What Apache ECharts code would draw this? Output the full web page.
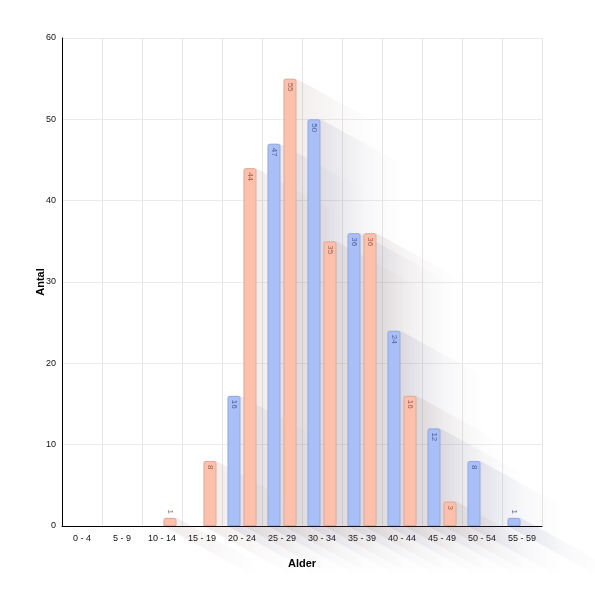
<!DOCTYPE html>
<html>
<head>
<meta charset="utf-8">
<script src="https://cdn.jsdelivr.net/npm/echarts@6/dist/echarts.min.js"></script>
<style>
  html, body { margin: 0; padding: 0; background: #fff; }
  #chart { width: 595px; height: 601px; }
</style>
</head>
<body>
<div id="chart"></div>
<script>
// age groups
const categories = ["0 - 4", "5 - 9", "10 - 14", "15 - 19", "20 - 24", "25 - 29",
  "30 - 34", "35 - 39", "40 - 44", "45 - 49", "50 - 54", "55 - 59"];
const blueValues = [0, 0, 0, 0, 16, 47, 50, 36, 24, 12, 8, 1];
const salmonValues = [0, 0, 1, 8, 44, 55, 35, 36, 16, 3, 0, 0];
const yMin = 0, yMax = 60, yStep = 10;

const BAR_W = 13;
const SHADOW_LEN = 85; // horizontal reach of the long shadow
const SHADOW_K = 0.55; // slope of the shadow

const chart = echarts.init(document.getElementById("chart"));

// long diagonal shadow behind each bar
function shadowRenderer(offset, rgb) {
  return function (params, api) {
    const v = api.value(1);
    if (!v) return;
    const top = api.coord([api.value(0), v]);
    const base = api.coord([api.value(0), 0]);
    const x0 = top[0] + offset;
    const x1 = x0 + BAR_W;
    const yt = top[1];
    const yb = base[1];
    const dx = SHADOW_LEN, dy = SHADOW_LEN * SHADOW_K;
    return {
      type: "polygon",
      silent: true,
      shape: {
        points: [[x0, yt], [x1, yt], [x1 + dx, yt + dy], [x1 + dx, yb + dy], [x0 + dx, yb + dy], [x0, yb]],
      },
      style: {
        fill: new echarts.graphic.LinearGradient(x1, 0, x1 + dx, 0, [
          { offset: 0, color: "rgba(" + rgb + ",0.11)" },
          { offset: 0.5, color: "rgba(" + rgb + ",0.04)" },
          { offset: 1, color: "rgba(" + rgb + ",0)" },
        ], true),
      },
    };
  };
}

function barData(values) {
  return values.map((v) => {
    if (!v) return "-";
    if (v < 2) return { value: v, label: { position: "top", align: "right", distance: 4 } };
    return v;
  });
}

const labelBase = {
  show: true,
  position: "insideTop",
  rotate: -90,
  align: "left",
  verticalAlign: "middle",
  distance: 4,
  fontSize: 8,
  fontFamily: "Liberation Sans",
};

const option = {
  animation: false,
  backgroundColor: "#fff",
  grid: { left: 62, right: 53, top: 38, bottom: 75 },
  xAxis: {
    type: "category",
    data: categories,
    name: "Alder",
    nameLocation: "middle",
    nameGap: 32,
    nameTextStyle: { fontSize: 11, fontWeight: "bold", color: "#000", fontFamily: "Liberation Sans" },
    axisLine: { lineStyle: { color: "#000", width: 1 } },
    axisTick: { show: false },
    axisLabel: { color: "#111", fontSize: 9, margin: 8, fontFamily: "Liberation Sans" },
    splitLine: { show: true, lineStyle: { color: "#e6e6e6" } },
  },
  yAxis: {
    type: "value",
    min: yMin,
    max: yMax,
    interval: yStep,
    name: "Antal",
    nameLocation: "middle",
    nameGap: 16,
    nameMoveOverlap: false,
    nameTextStyle: { fontSize: 11, fontWeight: "bold", color: "#000", fontFamily: "Liberation Sans" },
    axisLine: { show: true, lineStyle: { color: "#000", width: 1 } },
    axisTick: { show: false },
    axisLabel: { color: "#111", fontSize: 9, margin: 6, fontFamily: "Liberation Sans" },
    splitLine: { show: true, lineStyle: { color: "#ebebeb" } },
  },
  series: [
    {
      type: "custom",
      z: 1,
      clip: false,
      renderItem: shadowRenderer(-14.5, "70,80,130"),
      data: blueValues.map((v, i) => [i, v]),
    },
    {
      type: "custom",
      z: 1,
      clip: false,
      renderItem: shadowRenderer(1.5, "130,90,80"),
      data: salmonValues.map((v, i) => [i, v]),
    },
    {
      name: "Blå",
      type: "bar",
      z: 3,
      barWidth: BAR_W,
      barGap: "23%",
      data: barData(blueValues),
      itemStyle: { color: "#a9bff8", borderColor: "#95a9dd", borderWidth: 1, borderRadius: [2, 2, 0, 0] },
      label: Object.assign({}, labelBase, { color: "rgba(50,60,110,0.75)" }),
    },
    {
      name: "Laks",
      type: "bar",
      z: 3,
      barWidth: BAR_W,
      data: barData(salmonValues),
      itemStyle: { color: "#fdc1ab", borderColor: "#e2a994", borderWidth: 1, borderRadius: [2, 2, 0, 0] },
      label: Object.assign({}, labelBase, { color: "rgba(120,60,50,0.75)" }),
    },
  ],
};

chart.setOption(option);
</script>
</body>
</html>
